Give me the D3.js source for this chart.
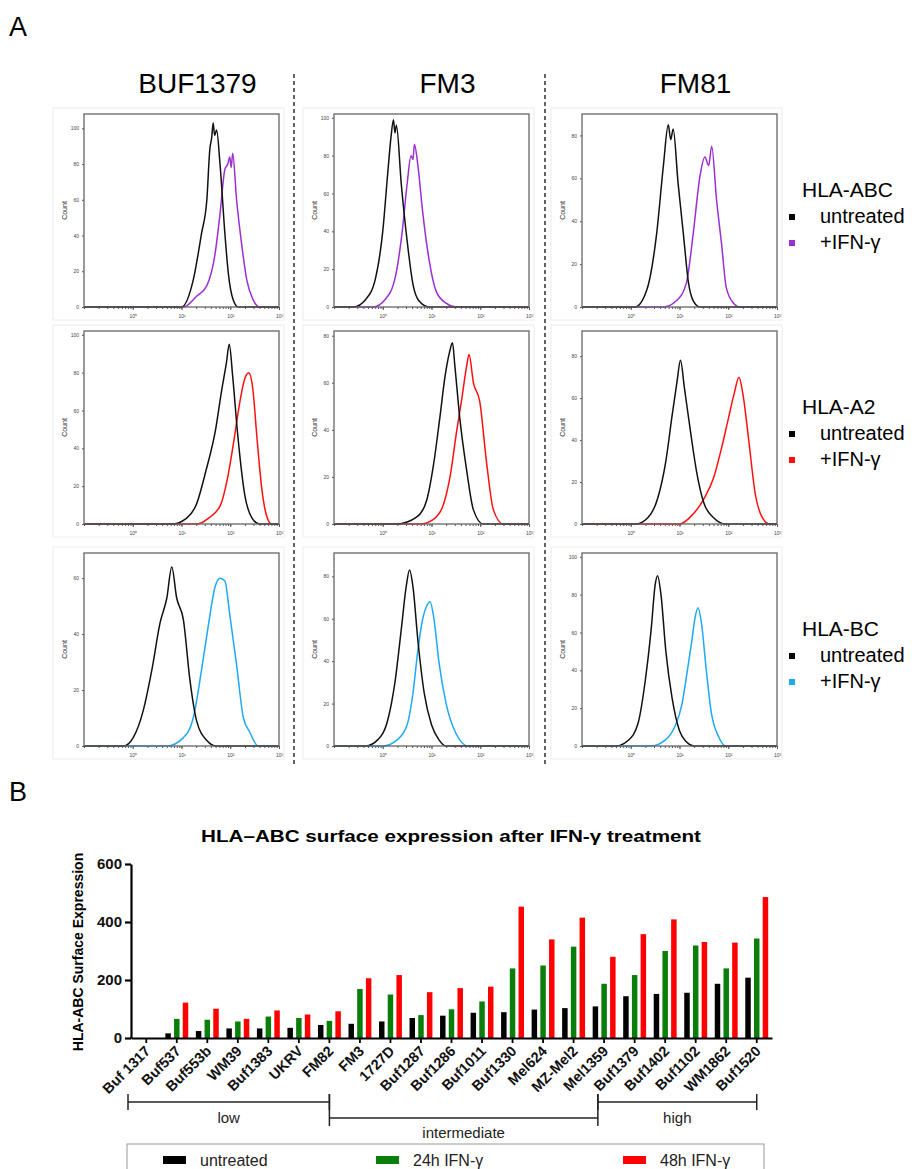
<!DOCTYPE html>
<html lang="en">
<head>
  <meta charset="UTF-8">
  <title>HLA expression after IFN-γ</title>
  <script src="https://cdn.jsdelivr.net/npm/d3@7"></script>
  <style>
    html, body {
      margin: 0;
      background: #fff;
    }
    svg text {
      font-family: Arial, "Liberation Sans", sans-serif;
    }
  </style>
</head>
<body>
  <div id="figure"></div>

  <script>
    // ---- panel A: flow histograms, [log10 intensity, count]
    const cellNames = ['BUF1379', 'FM3', 'FM81']
    const stainNames = ['HLA-ABC', 'HLA-A2', 'HLA-BC']

    const abcBufCtrl = [[-1,0],[1.0,0],[1.24,15],[1.41,41],[1.52,60],[1.58,88],[1.62,95],[1.65,103],[1.68,96],[1.72,99],[1.79,80],[1.89,41],[1.96,19],[2.06,4],[2.16,0],[3,0]]
    const abcBufIfn = [[-1,0],[1.04,0],[1.31,6],[1.52,12],[1.69,30],[1.79,52],[1.89,77],[1.95,80],[1.99,84],[2.02,78],[2.05,86],[2.13,60],[2.23,36],[2.34,15],[2.47,4],[2.6,0],[3,0]]
    const abcFm3Ctrl = [[-1,0],[-0.6,0],[-0.35,4],[-0.15,15],[0.0,40],[0.1,70],[0.17,90],[0.22,99],[0.25,92],[0.28,96],[0.38,65],[0.5,35],[0.62,12],[0.75,3],[0.95,0],[3,0]]
    const abcFm3Ifn = [[-1,0],[-0.2,0],[0.05,4],[0.25,15],[0.4,40],[0.5,65],[0.58,80],[0.62,78],[0.65,86],[0.72,75],[0.82,50],[0.95,25],[1.1,8],[1.3,2],[1.5,0],[3,0]]
    const abcFm81Ctrl = [[-1,0],[0.09,0],[0.33,8],[0.53,34],[0.67,66],[0.77,85],[0.82,78],[0.87,83],[0.97,58],[1.08,34],[1.18,12],[1.28,3],[1.42,0],[3,0]]
    const abcFm81Ifn = [[-1,0],[0.67,0],[0.94,3],[1.14,11],[1.28,34],[1.42,61],[1.52,70],[1.6,66],[1.66,75],[1.76,50],[1.86,30],[1.96,9],[2.1,2],[2.24,0],[3,0]]

    const a2BufCtrl = [[-1,0],[0.8,0],[1.1,3],[1.3,10],[1.5,28],[1.7,50],[1.82,70],[1.92,85],[1.98,95],[2.05,78],[2.15,48],[2.3,15],[2.45,3],[2.6,0],[3,0]]
    const a2BufIfn = [[-1,0],[1.3,0],[1.55,3],[1.8,10],[1.95,25],[2.08,45],[2.2,65],[2.3,77],[2.38,80],[2.46,72],[2.55,45],[2.65,18],[2.75,4],[2.85,0],[3,0]]
    const a2Fm3Ctrl = [[-1,0],[0.29,0],[0.7,3],[0.9,10],[1.04,25],[1.17,45],[1.28,63],[1.37,73],[1.43,77],[1.48,67],[1.58,45],[1.72,23],[1.86,6],[2.06,0],[3,0]]
    const a2Fm3Ifn = [[-1,0],[0.76,0],[1.04,2],[1.24,8],[1.38,20],[1.52,40],[1.62,53],[1.72,67],[1.77,72],[1.86,60],[1.99,52],[2.13,26],[2.27,6],[2.47,0],[3,0]]
    const a2Fm81Ctrl = [[-1,0],[0.1,0],[0.35,3],[0.55,12],[0.72,30],[0.85,52],[0.95,68],[1.02,78],[1.1,65],[1.22,45],[1.35,25],[1.5,10],[1.7,3],[1.95,0],[3,0]]
    const a2Fm81Ifn = [[-1,0],[1.0,0],[1.25,4],[1.5,12],[1.7,22],[1.85,35],[2.0,50],[2.12,62],[2.22,70],[2.3,62],[2.42,40],[2.55,15],[2.7,3],[2.85,0],[3,0]]

    const bcBufCtrl = [[-1,0],[-0.19,0],[0.01,3],[0.22,13],[0.39,27],[0.56,44],[0.7,53],[0.8,64],[0.9,53],[1.04,45],[1.17,24],[1.31,9],[1.52,2],[1.72,0],[3,0]]
    const bcBufIfn = [[-1,0],[0.7,0],[1.04,3],[1.24,10],[1.41,27],[1.55,43],[1.69,57],[1.79,60],[1.89,59],[1.99,47],[2.13,29],[2.27,10],[2.4,5],[2.57,0],[3,0]]
    const bcFm3Ctrl = [[-1,0],[-0.35,0],[-0.1,3],[0.1,12],[0.25,30],[0.38,55],[0.48,75],[0.55,83],[0.62,75],[0.72,50],[0.85,25],[1.0,10],[1.15,3],[1.3,0],[3,0]]
    const bcFm3Ifn = [[-1,0],[0.0,0],[0.3,3],[0.5,10],[0.62,25],[0.72,45],[0.82,60],[0.9,66],[0.97,68],[1.05,60],[1.15,40],[1.3,20],[1.5,6],[1.75,0],[3,0]]
    const bcFm81Ctrl = [[-1,0],[-0.3,0],[-0.05,3],[0.15,12],[0.3,35],[0.42,62],[0.5,85],[0.55,90],[0.62,80],[0.72,50],[0.85,25],[1.0,8],[1.15,2],[1.3,0],[3,0]]
    const bcFm81Ifn = [[-1,0],[0.4,0],[0.7,3],[0.9,10],[1.05,22],[1.15,38],[1.25,55],[1.32,68],[1.38,73],[1.45,65],[1.55,40],[1.65,18],[1.8,5],[1.95,0],[3,0]]

    // y axis top of every histogram and its highest labelled tick
    const histYMax = [[108, 102, 90], [102, 82, 92], [69, 91, 102]]
    const histYTop = [[100, 100, 80], [100, 80, 80], [60, 80, 100]]

    // ---- panel B: bar chart
    const cellLines = ['Buf 1317', 'Buf537', 'Buf553b', 'WM39', 'Buf1383', 'UKRV', 'FM82', 'FM3', '1727D',
      'Buf1287', 'Buf1286', 'Buf1011', 'Buf1330', 'Mel624', 'MZ-Mel2', 'Mel1359', 'Buf1379', 'Buf1402',
      'Buf1102', 'WM1862', 'Buf1520']
    const untreated = [0, 16, 24, 33, 33, 35, 45, 49, 57, 69, 77, 87, 89, 98, 103, 109, 144, 152, 156, 187, 208]
    const ifn24h = [0, 66, 63, 57, 74, 69, 59, 169, 150, 79, 99, 126, 240, 250, 315, 187, 217, 300, 319, 240, 343]
    const ifn48h = [0, 122, 101, 66, 95, 81, 92, 206, 217, 158, 172, 177, 453, 340, 415, 280, 358, 409, 331, 329, 486]
    const seriesNames = ['untreated', '24h IFN-γ', '48h IFN-γ']
    const yTicksB = [0, 200, 400, 600]

    const histPanels = [
      [[abcBufCtrl, abcBufIfn], [abcFm3Ctrl, abcFm3Ifn], [abcFm81Ctrl, abcFm81Ifn]],
      [[a2BufCtrl, a2BufIfn], [a2Fm3Ctrl, a2Fm3Ifn], [a2Fm81Ctrl, a2Fm81Ifn]],
      [[bcBufCtrl, bcBufIfn], [bcFm3Ctrl, bcFm3Ifn], [bcFm81Ctrl, bcFm81Ifn]],
    ]
    const ifnColors = ['#9b2fd2', '#ff1010', '#1ea9f2']
    const barColors = ['#000000', '#0a7d0a', '#ff0000']

    const width = 916
    const height = 1169

    const svg = d3.select('#figure').append('svg')
      .attr('width', width)
      .attr('height', height)

    // panel letters
    svg.append('text').attr('x', 9).attr('y', 36).text('A')
      .style('font-size', '27px')
    svg.append('text').attr('x', 9).attr('y', 801).text('B')
      .style('font-size', '27px')

    // ---- panel A
    const colLeft = [84, 334, 582]
    const rowTop = [114, 331, 553]
    const pw = 195
    const ph = 193

    cellNames.forEach((name, c) => {
      svg.append('text')
        .attr('x', colLeft[c] + pw / 2 + 16)
        .attr('y', 93)
        .attr('text-anchor', 'middle')
        .style('font-size', '28px')
        .text(name)
    })

    ;[294, 545].forEach(xd => {
      svg.append('line')
        .attr('x1', xd).attr('x2', xd)
        .attr('y1', 74).attr('y2', 766)
        .attr('stroke', '#222')
        .attr('stroke-width', 1.4)
        .attr('stroke-dasharray', '4,3')
    })

    const sup = ['⁰', '¹', '²', '³']

    histPanels.forEach((row, r) => {
      row.forEach((pair, c) => {
        const g = svg.append('g')
          .attr('transform', `translate(${colLeft[c]},${rowTop[r]})`)

        g.append('rect')
          .attr('x', -31).attr('y', -6)
          .attr('width', pw + 36).attr('height', ph + 19)
          .attr('fill', 'none')
          .attr('stroke', '#ececec')

        const x = d3.scaleLog().domain([0.1, 1000]).range([0, pw])
        const y = d3.scaleLinear().domain([0, histYMax[r][c]]).range([ph, 0])

        const minor = g.append('g')
          .attr('transform', `translate(0,${ph})`)
          .call(d3.axisBottom(x).tickValues(x.ticks()).tickSize(2).tickFormat(''))
        minor.select('.domain').remove()
        minor.selectAll('line').attr('stroke', '#555')

        const major = g.append('g')
          .attr('transform', `translate(0,${ph})`)
          .call(d3.axisBottom(x).tickValues([1, 10, 100, 1000]).tickSize(3).tickFormat((d, i) => '10' + sup[i]))
        major.select('.domain').remove()
        major.selectAll('line').attr('stroke', '#555')
        major.selectAll('text').style('font-size', '5px').attr('fill', '#444').attr('dy', '0.9em')

        const yAxis = g.append('g')
          .call(d3.axisLeft(y).tickValues(d3.range(0, histYTop[r][c] + 1, 20)).tickSize(2).tickPadding(3))
        yAxis.select('.domain').remove()
        yAxis.selectAll('line').attr('stroke', '#555')
        yAxis.selectAll('text').style('font-size', '5px').attr('fill', '#444')

        g.append('text')
          .attr('transform', `translate(-17,${ph / 2}) rotate(-90)`)
          .attr('text-anchor', 'middle')
          .style('font-size', '7px')
          .attr('fill', '#333')
          .text('Count')

        const line = d3.line()
          .x(d => x(Math.pow(10, d[0])))
          .y(d => y(d[1]))
          .curve(d3.curveMonotoneX)

        g.append('path')
          .datum(pair[1])
          .attr('d', line)
          .attr('fill', 'none')
          .attr('stroke', ifnColors[r])
          .attr('stroke-width', 1.5)

        g.append('path')
          .datum(pair[0])
          .attr('d', line)
          .attr('fill', 'none')
          .attr('stroke', '#111')
          .attr('stroke-width', 1.5)

        g.append('rect')
          .attr('width', pw).attr('height', ph)
          .attr('fill', 'none')
          .attr('stroke', '#666')
          .attr('stroke-width', 1.3)
      })

      // legend to the right of each row
      const lg = svg.append('g').attr('transform', `translate(789,${rowTop[r] + 83})`)
      lg.append('text').attr('x', 13).attr('y', 0).style('font-size', '21px').text(stainNames[r])
      const items = [['untreated', '#000'], ['+IFN-γ', ifnColors[r]]]
      items.forEach((it, i) => {
        lg.append('rect')
          .attr('x', 0).attr('y', 17 + i * 26)
          .attr('width', 6).attr('height', 6)
          .attr('fill', it[1])
        lg.append('text')
          .attr('x', 31).attr('y', 26 + i * 26)
          .style('font-size', '20px')
          .text(it[0])
      })
    })

    // ---- panel B
    const x0 = d3.scaleBand().domain(cellLines).range([131, 772])
    const x1 = d3.scaleBand().domain(seriesNames).range([0, 22.9]).paddingInner(0.37)
    const yB = d3.scaleLinear().domain([0, 600]).range([1038, 864])
    const groupLeft = name => x0(name) + x0.bandwidth() / 2 - 11.45

    svg.append('text')
      .attr('x', 451).attr('y', 842)
      .attr('text-anchor', 'middle')
      .attr('textLength', 500)
      .attr('lengthAdjust', 'spacingAndGlyphs')
      .style('font-size', '17px')
      .style('font-weight', 'bold')
      .text('HLA–ABC surface expression after IFN-γ treatment')

    const barRows = cellLines.map((name, i) => ({
      name,
      values: [untreated[i], ifn24h[i], ifn48h[i]],
    }))

    const groups = svg.selectAll('.grp')
      .data(barRows)
      .enter()
      .append('g')
      .attr('class', 'grp')
      .attr('transform', d => `translate(${groupLeft(d.name)},0)`)

    groups.selectAll('rect')
      .data(d => d.values.map((v, k) => ({ key: seriesNames[k], v, k })))
      .enter()
      .append('rect')
      .attr('x', d => x1(d.key))
      .attr('width', x1.bandwidth())
      .attr('y', d => yB(d.v))
      .attr('height', d => yB(0) - yB(d.v))
      .attr('fill', d => barColors[d.k])

    const yAxB = svg.append('g')
      .attr('transform', 'translate(131,0)')
      .call(d3.axisLeft(yB).tickValues(yTicksB).tickSize(6).tickSizeOuter(0).tickPadding(3))
    yAxB.select('.domain').attr('stroke-width', 2.2)
    yAxB.selectAll('line').attr('stroke-width', 2.2)
    yAxB.selectAll('text').style('font-size', '15px').style('font-weight', 'bold').attr('fill', '#111')

    const xAxB = svg.append('g')
      .attr('transform', 'translate(0,1038)')
      .call(d3.axisBottom(x0).tickSize(5).tickSizeOuter(0))
    xAxB.select('.domain').attr('stroke-width', 2.2)
    xAxB.selectAll('line').attr('stroke-width', 1.8)
    xAxB.selectAll('text')
      .attr('x', 0).attr('y', 0).attr('dy', 0)
      .attr('transform', 'translate(5,14) rotate(-45)')
      .attr('text-anchor', 'end')
      .style('font-size', '14.5px')
      .style('font-weight', 'bold')
      .attr('fill', '#111')

    svg.append('text')
      .attr('transform', 'translate(83,952) rotate(-90)')
      .attr('text-anchor', 'middle')
      .style('font-size', '14px')
      .style('font-weight', 'bold')
      .text('HLA-ABC Surface Expression')

    // low / intermediate / high brackets
    const mid = name => x0(name) + x0.bandwidth() / 2
    const lowEnd = mid('FM82')
    const highStart = x0('Mel1359') + 9
    const brackets = [
      { label: 'low', x1: 128, x2: lowEnd, y: 1102, cap: [1094, 1110], ty: 1123 },
      { label: 'intermediate', x1: lowEnd, x2: highStart, y: 1118, cap: [1094, 1126], ty: 1138 },
      { label: 'high', x1: highStart, x2: mid('Buf1520'), y: 1102, cap: [1094, 1110], ty: 1123 },
    ]
    brackets.forEach(b => {
      const bg = svg.append('g').attr('stroke', '#222').attr('stroke-width', 1.5)
      bg.append('line').attr('x1', b.x1).attr('x2', b.x2).attr('y1', b.y).attr('y2', b.y)
      bg.append('line').attr('x1', b.x1).attr('x2', b.x1).attr('y1', b.cap[0]).attr('y2', b.cap[1])
      bg.append('line').attr('x1', b.x2).attr('x2', b.x2).attr('y1', b.cap[0]).attr('y2', b.cap[1])
      svg.append('text')
        .attr('x', (b.x1 + b.x2) / 2).attr('y', b.ty)
        .attr('text-anchor', 'middle')
        .style('font-size', '15px')
        .attr('fill', '#222')
        .text(b.label)
    })

    // legend box at the bottom
    svg.append('rect')
      .attr('x', 127).attr('y', 1144)
      .attr('width', 637).attr('height', 40)
      .attr('fill', 'none')
      .attr('stroke', '#999')
    const legX = [163, 376, 623]
    seriesNames.forEach((s, i) => {
      svg.append('rect')
        .attr('x', legX[i]).attr('y', 1156)
        .attr('width', 23).attr('height', 8)
        .attr('fill', barColors[i])
      svg.append('text')
        .attr('x', legX[i] + 37).attr('y', 1166)
        .style('font-size', '16px')
        .attr('fill', '#222')
        .text(s)
    })
  </script>
</body>
</html>
